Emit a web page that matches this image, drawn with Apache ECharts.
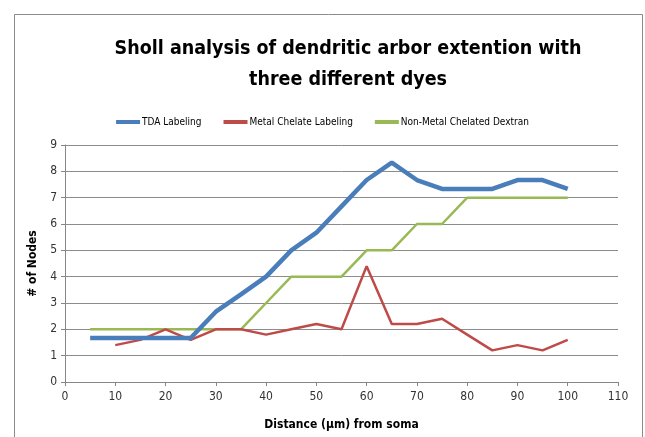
<!DOCTYPE html>
<html>
<head>
<meta charset="utf-8">
<script src="https://cdn.jsdelivr.net/npm/echarts@6/dist/echarts.min.js"></script>
<style>
  html, body { margin: 0; padding: 0; background: #fff; }
  #chart { width: 645px; height: 437px; }
</style>
</head>
<body>
<div id="chart"></div>
<script>
// distances from soma (µm)
var distTda = [5, 10, 15, 20, 25, 30, 35, 40, 45, 50, 55, 60, 65, 70, 75, 80, 85, 90, 95, 100];
var tdaLabeling = [1.67, 1.67, 1.67, 1.67, 1.67, 2.67, 3.33, 4, 5, 5.67, 6.67, 7.67, 8.33, 7.67, 7.33, 7.33, 7.33, 7.67, 7.67, 7.33];

var distMetal = [10, 15, 20, 25, 30, 35, 40, 45, 50, 55, 60, 65, 70, 75, 80, 85, 90, 95, 100];
var metalChelate = [1.4, 1.6, 2.0, 1.6, 2.0, 2.0, 1.8, 2.0, 2.2, 2.0, 4.4, 2.2, 2.2, 2.4, 1.8, 1.2, 1.4, 1.2, 1.6];

var distDextran = [5, 10, 15, 20, 25, 30, 35, 40, 45, 50, 55, 60, 65, 70, 75, 80, 85, 90, 95, 100];
var nonMetalDextran = [2, 2, 2, 2, 2, 2, 2, 3, 4, 4, 4, 5, 5, 6, 6, 7, 7, 7, 7, 7];

var seriesNames = ['TDA Labeling', 'Metal Chelate Labeling', 'Non-Metal Chelated Dextran'];

function pairs(xs, ys) {
  return xs.map(function (x, i) { return [x, ys[i]]; });
}

var font = '"DejaVu Sans Condensed", "Open Sans", sans-serif';
var chart = echarts.init(document.getElementById('chart'));

chart.setOption({
  backgroundColor: '#fff',
  animation: false,
  textStyle: { fontFamily: font },
  graphic: [{
    type: 'rect',
    left: 12, top: 12,
    shape: { width: 628, height: 440 },
    style: { fill: 'none', stroke: '#8a8a8a', lineWidth: 1 }
  }],
  title: {
    text: 'Sholl analysis of dendritic arbor extention with\nthree different dyes',
    left: 343,
    textAlign: 'center',
    top: 28,
    textStyle: {
      fontFamily: font, fontSize: 19.5, fontWeight: 'bold', color: '#000', lineHeight: 31
    }
  },
  legend: {
    top: 112,
    left: 'center',
    itemWidth: 24,
    itemHeight: 4,
    itemGap: 22,
    icon: 'rect',
    data: seriesNames,
    textStyle: { fontFamily: font, fontSize: 10, color: '#000', padding: [0, 0, 0, -3] }
  },
  grid: { left: 65, right: 27, top: 145, bottom: 55 },
  xAxis: {
    type: 'value',
    min: 0, max: 110, interval: 10,
    name: 'Distance (µm) from soma',
    nameLocation: 'middle',
    nameGap: 37,
    nameTextStyle: { fontFamily: font, fontSize: 12, fontWeight: 'bold', color: '#000' },
    axisLine: { show: true, lineStyle: { color: '#868686' } },
    axisTick: { show: true, length: 4, lineStyle: { color: '#868686' } },
    axisLabel: { fontFamily: font, fontSize: 12, color: '#333', margin: 9 },
    splitLine: { show: false }
  },
  yAxis: {
    type: 'value',
    min: 0, max: 9, interval: 1,
    name: '# of Nodes',
    nameLocation: 'middle',
    nameGap: 24,
    nameTextStyle: { fontFamily: font, fontSize: 12, fontWeight: 'bold', color: '#000' },
    axisLine: { show: true, lineStyle: { color: '#868686' } },
    axisTick: { show: true, length: 4, lineStyle: { color: '#868686' } },
    axisLabel: { fontFamily: font, fontSize: 12, color: '#333', margin: 8 },
    splitLine: { show: true, lineStyle: { color: '#8c8c8c', width: 1 } }
  },
  series: [{
    name: seriesNames[0],
    type: 'line',
    data: pairs(distTda, tdaLabeling),
    showSymbol: false,
    symbol: 'none',
    color: '#4a7ebb',
    lineStyle: { width: 4.5, color: '#4a7ebb' },
    z: 4
  }, {
    name: seriesNames[1],
    type: 'line',
    data: pairs(distMetal, metalChelate),
    showSymbol: false,
    symbol: 'none',
    color: '#be4b48',
    lineStyle: { width: 2.5, color: '#be4b48' },
    z: 3
  }, {
    name: seriesNames[2],
    type: 'line',
    data: pairs(distDextran, nonMetalDextran),
    showSymbol: false,
    symbol: 'none',
    color: '#98b954',
    lineStyle: { width: 2.5, color: '#98b954' },
    z: 2
  }]
});
</script>
</body>
</html>
